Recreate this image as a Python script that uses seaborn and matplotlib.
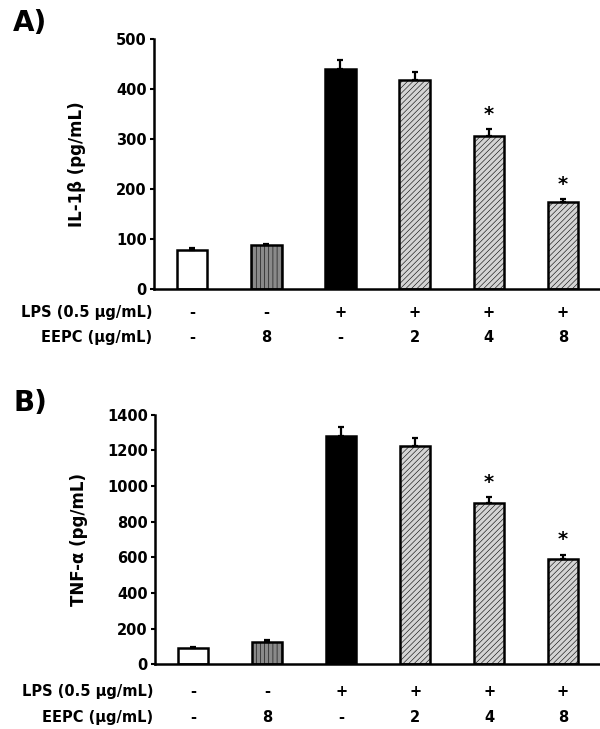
import numpy as np
import matplotlib
matplotlib.use("Agg")
import matplotlib.pyplot as plt
import seaborn as sns

# ---- data ----
GROUPS = ["ctrl", "eepc8", "lps", "lps_eepc2", "lps_eepc4", "lps_eepc8"]
LPS_ROW = ["-", "-", "+", "+", "+", "+"]
EEPC_ROW = ["-", "8", "-", "2", "4", "8"]

IL1B_MEAN = [77, 87, 440, 418, 307, 173]
IL1B_SEM = [4, 2, 18, 17, 13, 7]
IL1B_STAR = [False, False, False, False, True, True]

TNF_MEAN = [88, 127, 1279, 1223, 903, 590]
TNF_SEM = [7, 6, 51, 48, 33, 24]
TNF_STAR = [False, False, False, False, True, True]

FACES = ["white", "#8a8a8a", "black", "#d4d4d4", "#d4d4d4", "#d4d4d4"]
HATCHES = ["", "||||", "", "//////", "//////", "//////"]

sns.set_style("white")
plt.rcParams['font.family'] = ['DejaVu Sans']
plt.rcParams['font.weight'] = 'bold'
plt.rcParams['hatch.linewidth'] = 0.4
plt.rcParams['text.color'] = 'black'
plt.rcParams['axes.labelcolor'] = 'black'
plt.rcParams['ytick.color'] = 'black'

fig = plt.figure(figsize=(6, 7.29), dpi=100)
ax_a = fig.add_axes([0.256, 0.604, 0.744, 0.342])
ax_b = fig.add_axes([0.258, 0.089, 0.742, 0.342])


def draw_panel(ax, means, sems, stars, ylim, yticks, ylabel, star_off, row_offs):
    x = np.arange(len(GROUPS))
    sns.barplot(x=GROUPS, y=means, ax=ax, order=GROUPS, width=0.41,
                errorbar=None, color="white", saturation=1)
    for p, fc, h in zip(ax.patches, FACES, HATCHES):
        p.set_facecolor(fc)
        p.set_edgecolor("black")
        p.set_linewidth(1.8)
        p.set_hatch(h)
    ax.errorbar(x, means, yerr=[np.zeros(len(sems)), sems], fmt="none",
                ecolor="black", elinewidth=1.6, capsize=2.5, capthick=1.6, zorder=1)
    for xi, m, s, st in zip(x, means, sems, stars):
        if st:
            ax.text(xi, m + s + star_off, "*", ha="center", va="bottom",
                    fontsize=14, fontweight="bold")
    ax.set_xlim(-0.52, 5.5)
    ax.set_ylim(*ylim)
    ax.set_yticks(yticks)
    ax.set_yticklabels([str(t) for t in yticks], fontsize=10.5, fontweight="bold")
    ax.set_xticks([])
    ax.set_ylabel(ylabel, fontsize=12, fontweight="bold")
    ax.yaxis.set_label_coords(-0.151, 0.5)
    for side in ["top", "right"]:
        ax.spines[side].set_visible(False)
    for side in ["left", "bottom"]:
        ax.spines[side].set_linewidth(1.8)
        ax.spines[side].set_color("black")
    ax.tick_params(axis="y", left=True, direction="out", length=3, width=1.5, pad=2)

    # condition rows under the bars
    for row, lbl, off in [(LPS_ROW, "LPS (0.5 μg/mL)", row_offs[0]),
                          (EEPC_ROW, "EEPC (μg/mL)", row_offs[1])]:
        ax.annotate(lbl, xy=(0, 0), xycoords="axes fraction", xytext=(-1, off),
                    textcoords="offset points", ha="right", va="center",
                    fontsize=10.5, fontweight="bold")
        for xi, s in zip(x, row):
            ax.annotate(s, xy=(xi, 0), xycoords=("data", "axes fraction"),
                        xytext=(0, off), textcoords="offset points",
                        ha="center", va="center", fontsize=10.5, fontweight="bold")


draw_panel(ax_a, IL1B_MEAN, IL1B_SEM, IL1B_STAR, (0, 500),
           [0, 100, 200, 300, 400, 500], "IL-1β (pg/mL)", 10, (-16.8, -35.5))
draw_panel(ax_b, TNF_MEAN, TNF_SEM, TNF_STAR, (0, 1400),
           [0, 200, 400, 600, 800, 1000, 1200, 1400], "TNF-α (pg/mL)", 32, (-19.4, -38.2))

fig.text(0.022, 0.988, "A)", fontsize=20, fontweight="bold", va="top")
fig.text(0.022, 0.466, "B)", fontsize=20, fontweight="bold", va="top")

fig.savefig("out.png", dpi=100)
